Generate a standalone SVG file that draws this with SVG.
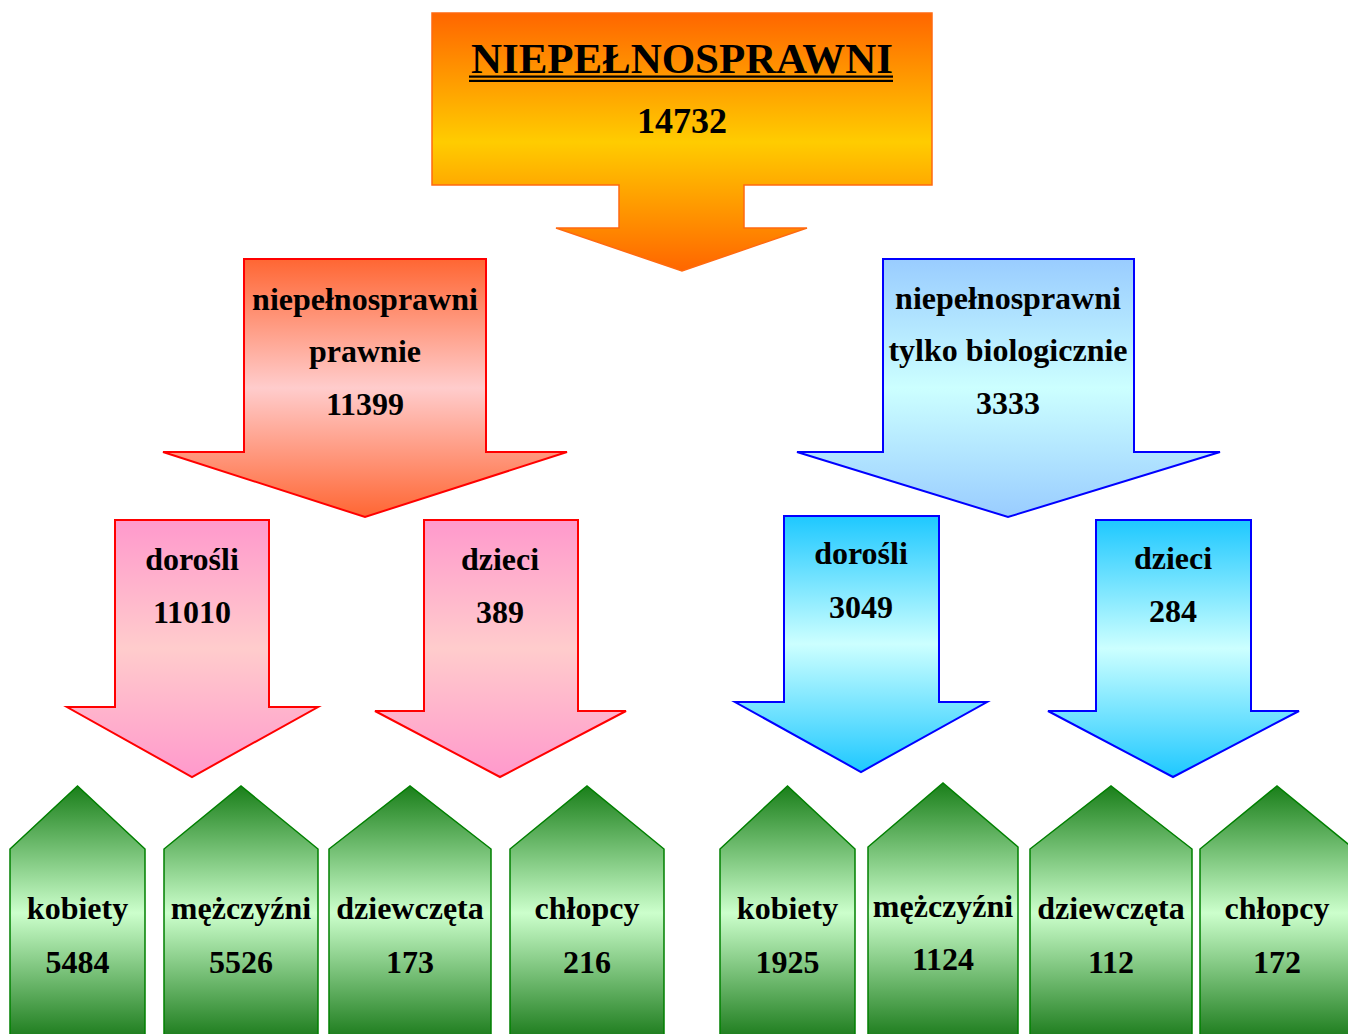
<svg xmlns="http://www.w3.org/2000/svg" width="1348" height="1034" viewBox="0 0 1348 1034">
<defs>
<linearGradient id="gOrange" x1="0" y1="0" x2="0" y2="1"><stop offset="0" stop-color="#ff6600"/><stop offset="0.5" stop-color="#ffcc00"/><stop offset="1" stop-color="#ff6600"/></linearGradient>
<linearGradient id="gRed" x1="0" y1="0" x2="0" y2="1"><stop offset="0" stop-color="#ff6633"/><stop offset="0.5" stop-color="#ffcccc"/><stop offset="1" stop-color="#ff6633"/></linearGradient>
<linearGradient id="gBlue" x1="0" y1="0" x2="0" y2="1"><stop offset="0" stop-color="#99ccff"/><stop offset="0.5" stop-color="#ccffff"/><stop offset="1" stop-color="#99ccff"/></linearGradient>
<linearGradient id="gPink" x1="0" y1="0" x2="0" y2="1"><stop offset="0" stop-color="#ff99cc"/><stop offset="0.5" stop-color="#ffcccc"/><stop offset="1" stop-color="#ff99cc"/></linearGradient>
<linearGradient id="gCyan" x1="0" y1="0" x2="0" y2="1"><stop offset="0" stop-color="#1ec8ff"/><stop offset="0.5" stop-color="#ccffff"/><stop offset="1" stop-color="#1ec8ff"/></linearGradient>
<linearGradient id="gGreen" x1="0" y1="0" x2="0" y2="1"><stop offset="0" stop-color="#1a7f1a"/><stop offset="0.5" stop-color="#ccffcc"/><stop offset="1" stop-color="#1a7a1a"/></linearGradient>
</defs>
<style>
text{font-family:"Liberation Serif","Times New Roman",serif;font-weight:bold;fill:#000;text-anchor:middle}
.t{font-size:32px}
.g{fill:url(#gGreen);stroke:#008000;stroke-width:1.5}
.pk{fill:url(#gPink);stroke:#ff0000;stroke-width:2}
.cy{fill:url(#gCyan);stroke:#0000ff;stroke-width:2}
</style>
<g id="connectors"/>
<g id="root">
<path d="M432,13 H932 V185 H744 V228 H807 L682,271 L556,228 H619 V185 H432 Z" fill="url(#gOrange)" stroke="#ff6a10" stroke-width="1.5"/>
<text x="682" y="73" font-size="43" textLength="422" lengthAdjust="spacing">NIEPEŁNOSPRAWNI</text>
<rect x="469" y="75.5" width="424" height="2.2" fill="#000"/>
<rect x="469" y="79.8" width="424" height="2.2" fill="#000"/>
<text x="682" y="133" font-size="36">14732</text>
</g>
<g id="prawnie">
<path d="M244,259 H486 V452 H567 L365,517 L163,452 H244 Z" fill="url(#gRed)" stroke="#ff0000" stroke-width="2"/>
<text class="t" x="365" y="310">niepełnosprawni</text>
<text class="t" x="365" y="362">prawnie</text>
<text class="t" x="365" y="415">11399</text>
</g>
<g id="biologicznie">
<path d="M883,259 H1134 V452 H1220 L1008,517 L797,452 H883 Z" fill="url(#gBlue)" stroke="#0000ff" stroke-width="2"/>
<text class="t" x="1008" y="309">niepełnosprawni</text>
<text class="t" x="1008" y="361">tylko biologicznie</text>
<text class="t" x="1008" y="414">3333</text>
</g>
<g id="p-dorosli">
<path class="pk" d="M115,520 H269 V707 H318 L192,777 L67,707 H115 Z"/>
<text class="t" x="192" y="570">dorośli</text>
<text class="t" x="192" y="623">11010</text>
</g>
<g id="p-dzieci">
<path class="pk" d="M424,520 H578 V711 H626 L500,777 L375,711 H424 Z"/>
<text class="t" x="500" y="570">dzieci</text>
<text class="t" x="500" y="623">389</text>
</g>
<g id="b-dorosli">
<path class="cy" d="M784,516 H939 V702 H987 L861,772 L735,702 H784 Z"/>
<text class="t" x="861" y="564">dorośli</text>
<text class="t" x="861" y="618">3049</text>
</g>
<g id="b-dzieci">
<path class="cy" d="M1096,520 H1251 V711 H1299 L1173,777 L1048,711 H1096 Z"/>
<text class="t" x="1173" y="569">dzieci</text>
<text class="t" x="1173" y="622">284</text>
</g>
<g id="p-kobiety">
<path class="g" d="M10,1040 V849 L77.5,786 L145,849 V1040 Z"/>
<text class="t" x="77.5" y="919">kobiety</text>
<text class="t" x="77.5" y="973">5484</text>
</g>
<g id="p-mezczyzni">
<path class="g" d="M164,1040 V849 L241,786 L318,849 V1040 Z"/>
<text class="t" x="241" y="919">mężczyźni</text>
<text class="t" x="241" y="973">5526</text>
</g>
<g id="p-dziewczeta">
<path class="g" d="M329,1040 V849 L410,786 L491,849 V1040 Z"/>
<text class="t" x="410" y="919">dziewczęta</text>
<text class="t" x="410" y="973">173</text>
</g>
<g id="p-chlopcy">
<path class="g" d="M510,1040 V849 L587,786 L664,849 V1040 Z"/>
<text class="t" x="587" y="919">chłopcy</text>
<text class="t" x="587" y="973">216</text>
</g>
<g id="b-kobiety">
<path class="g" d="M720,1040 V849 L787.5,786 L855,849 V1040 Z"/>
<text class="t" x="787.5" y="919">kobiety</text>
<text class="t" x="787.5" y="973">1925</text>
</g>
<g id="b-mezczyzni">
<path class="g" d="M868,1040 V847 L943,783 L1018,847 V1040 Z"/>
<text class="t" x="943" y="917">mężczyźni</text>
<text class="t" x="943" y="970">1124</text>
</g>
<g id="b-dziewczeta">
<path class="g" d="M1030,1040 V849 L1111,786 L1192,849 V1040 Z"/>
<text class="t" x="1111" y="919">dziewczęta</text>
<text class="t" x="1111" y="973">112</text>
</g>
<g id="b-chlopcy">
<path class="g" d="M1200,1040 V849 L1277,786 L1354,849 V1040 Z"/>
<text class="t" x="1277" y="919">chłopcy</text>
<text class="t" x="1277" y="973">172</text>
</g>
</svg>
